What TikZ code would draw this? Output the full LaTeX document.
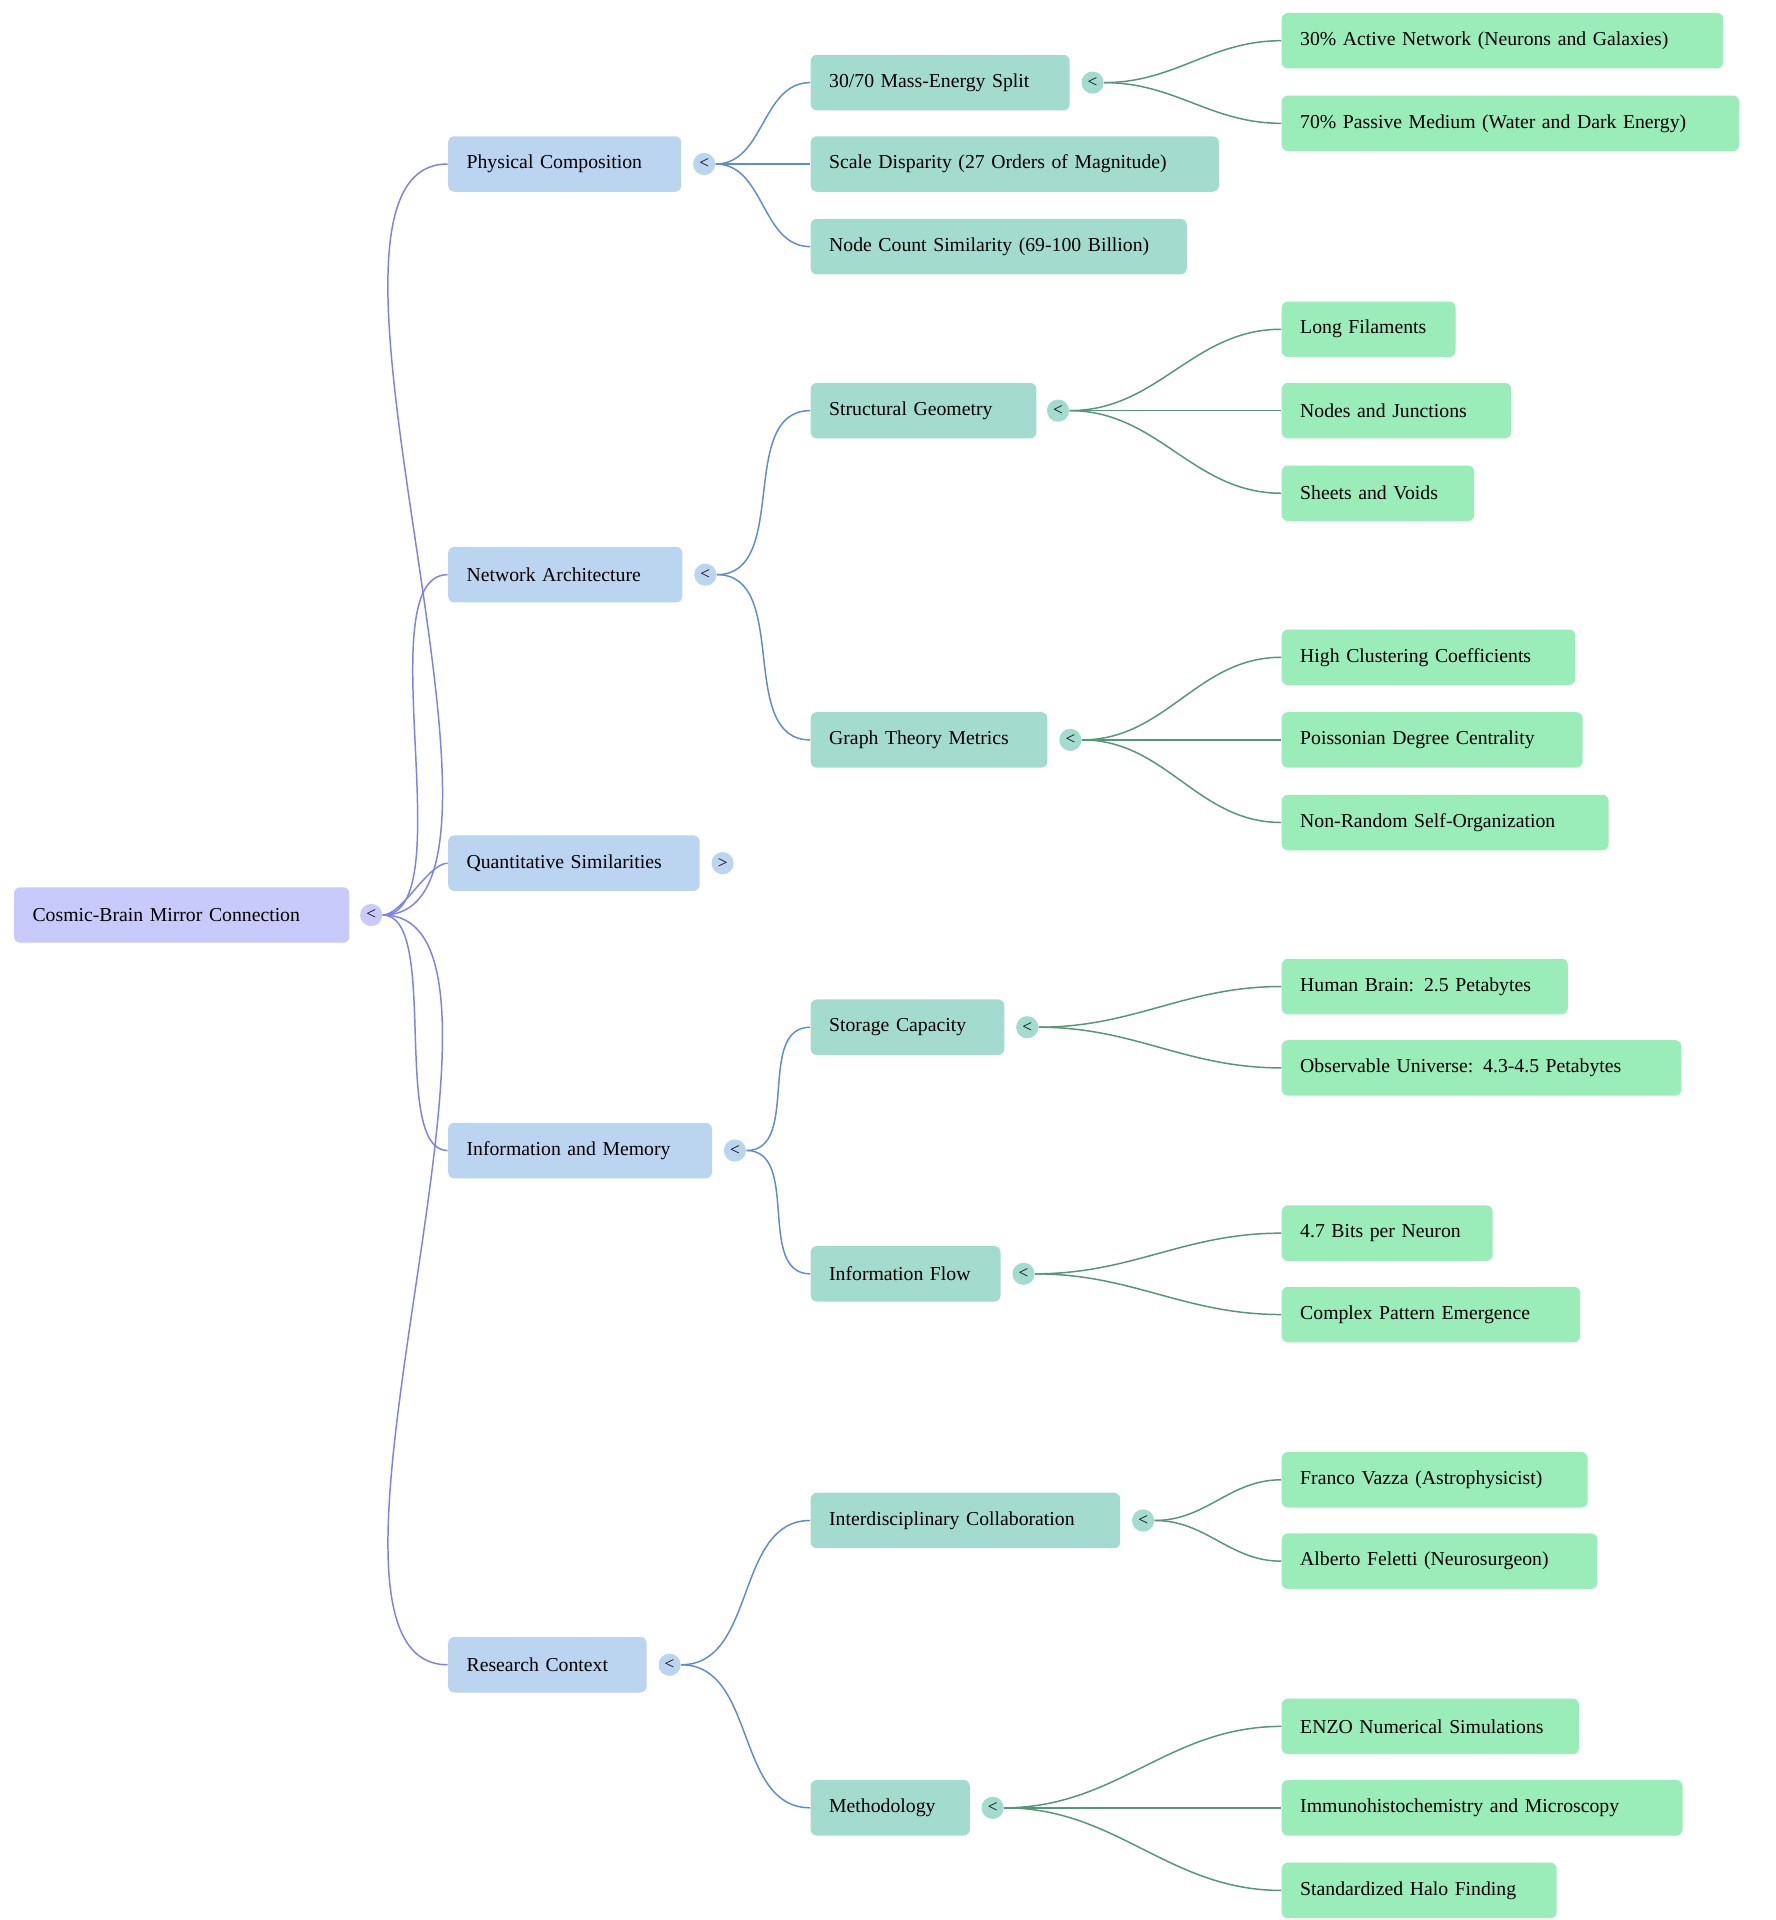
\documentclass[tikz,border=0pt]{standalone}
\usepackage{fontspec}
\setmainfont{Liberation Serif}
\usetikzlibrary{positioning}
\definecolor{cRoot}{RGB}{199,202,250}
\definecolor{cOne}{RGB}{187,212,240}
\definecolor{cTwo}{RGB}{164,219,207}
\definecolor{cThree}{RGB}{154,236,185}
\definecolor{eRoot}{RGB}{125,130,235}
\definecolor{eOne}{RGB}{95,140,205}
\definecolor{eTwo}{RGB}{85,150,120}
\tikzset{
  box/.style={anchor=west, rounded corners=2.5pt, minimum height=22.5pt, inner xsep=7.5pt, align=left, font=\fontsize{8}{9.6}\selectfont},
  lv0/.style={box, fill=cRoot},
  lv1/.style={box, fill=cOne},
  lv2/.style={box, fill=cTwo},
  lv3/.style={box, fill=cThree},
  tog/.style={circle, inner sep=0pt, minimum size=9pt, font=\fontsize{7}{7}\selectfont},
  e0/.style={draw=eRoot, line width=0.6pt},
  e1/.style={draw=eOne, line width=0.6pt},
  e2/.style={draw=eTwo, line width=0.6pt},
}
\begin{document}
\begin{tikzpicture}[x=0.5pt,y=-0.5pt]
\useasboundingbox (0,0) rectangle (1440,1557);

% root
\node[lv0, text width=121pt] (root) at (11,742) {Cosmic-Brain Mirror Connection};
\node[tog, fill=cRoot] (troot) at (301,742) {<};

% first level
\node[lv1, text width=79.5pt] (phys) at (363,133) {Physical Composition};
\node[lv1, text width=80pt] (net) at (363,466) {Network Architecture};
\node[lv1, text width=87pt] (quant) at (363,700) {Quantitative Similarities};
\node[lv1, text width=92pt] (info) at (363,933) {Information and Memory};
\node[lv1, text width=65.5pt] (res) at (363,1350) {Research Context};
\node[tog, fill=cOne] (tphys) at (571,133) {<};
\node[tog, fill=cOne] (tnet) at (572,466) {<};
\node[tog, fill=cOne] (tquant) at (586,700) {>};
\node[tog, fill=cOne] (tinfo) at (596,933) {<};
\node[tog, fill=cOne] (tres) at (543,1350) {<};

% second level
\node[lv2, text width=90pt] (mass) at (657,67) {30/70 Mass-Energy Split};
\node[lv2, text width=150.5pt] (scale) at (657,133) {Scale Disparity (27 Orders of Magnitude)};
\node[lv2, text width=137.5pt] (count) at (657,200) {Node Count Similarity (69-100 Billion)};
\node[lv2, text width=76.5pt] (geom) at (657,333) {Structural Geometry};
\node[lv2, text width=81pt] (graph) at (657,600) {Graph Theory Metrics};
\node[lv2, text width=63.5pt] (store) at (657,833) {Storage Capacity};
\node[lv2, text width=62pt] (flow) at (657,1033) {Information Flow};
\node[lv2, text width=110.5pt] (collab) at (657,1233) {Interdisciplinary Collaboration};
\node[lv2, text width=49.5pt] (meth) at (657,1466) {Methodology};
\node[tog, fill=cTwo] (tmass) at (886,67) {<};
\node[tog, fill=cTwo] (tgeom) at (858,333) {<};
\node[tog, fill=cTwo] (tgraph) at (868,600) {<};
\node[tog, fill=cTwo] (tstore) at (833,833) {<};
\node[tog, fill=cTwo] (tflow) at (830,1033) {<};
\node[tog, fill=cTwo] (tcollab) at (927,1233) {<};
\node[tog, fill=cTwo] (tmeth) at (805,1466) {<};

% third level
\node[lv3, text width=164pt] (active) at (1039,33) {30\% Active Network (Neurons and Galaxies)};
\node[lv3, text width=170.5pt] (passive) at (1039,100) {70\% Passive Medium (Water and Dark Energy)};
\node[lv3, text width=55.5pt] (fil) at (1039,267) {Long Filaments};
\node[lv3, text width=78pt] (junc) at (1039,333) {Nodes and Junctions};
\node[lv3, text width=63pt] (sheet) at (1039,400) {Sheets and Voids};
\node[lv3, text width=104pt] (clust) at (1039,533) {High Clustering Coefficients};
\node[lv3, text width=107pt] (poiss) at (1039,600) {Poissonian Degree Centrality};
\node[lv3, text width=117.5pt] (nonrand) at (1039,667) {Non-Random Self-Organization};
\node[lv3, text width=101pt] (brain) at (1039,800) {Human Brain: 2.5 Petabytes};
\node[lv3, text width=147pt] (univ) at (1039,866) {Observable Universe: 4.3-4.5 Petabytes};
\node[lv3, text width=70.5pt] (bits) at (1039,1000) {4.7 Bits per Neuron};
\node[lv3, text width=106pt] (pattern) at (1039,1066) {Complex Pattern Emergence};
\node[lv3, text width=109pt] (vazza) at (1039,1200) {Franco Vazza (Astrophysicist)};
\node[lv3, text width=113pt] (feletti) at (1039,1266) {Alberto Feletti (Neurosurgeon)};
\node[lv3, text width=105.5pt] (enzo) at (1039,1400) {ENZO Numerical Simulations};
\node[lv3, text width=147.5pt] (immuno) at (1039,1466) {Immunohistochemistry and Microscopy};
\node[lv3, text width=96.5pt] (halo) at (1039,1533) {Standardized Halo Finding};

% connectors
\foreach \c in {phys,net,quant,info,res}
  \draw[e0] (troot.east) to[out=0,in=180,looseness=0.6] (\c.west);
\foreach \p/\c in {phys/mass,phys/scale,phys/count,net/geom,net/graph,info/store,info/flow,res/collab,res/meth}
  \draw[e1] (t\p.east) to[out=0,in=180] (\c.west);
\foreach \p/\c in {mass/active,mass/passive,geom/fil,geom/junc,geom/sheet,graph/clust,graph/poiss,graph/nonrand,store/brain,store/univ,flow/bits,flow/pattern,collab/vazza,collab/feletti,meth/enzo,meth/immuno,meth/halo}
  \draw[e2] (t\p.east) to[out=0,in=180] (\c.west);
\end{tikzpicture}
\end{document}
